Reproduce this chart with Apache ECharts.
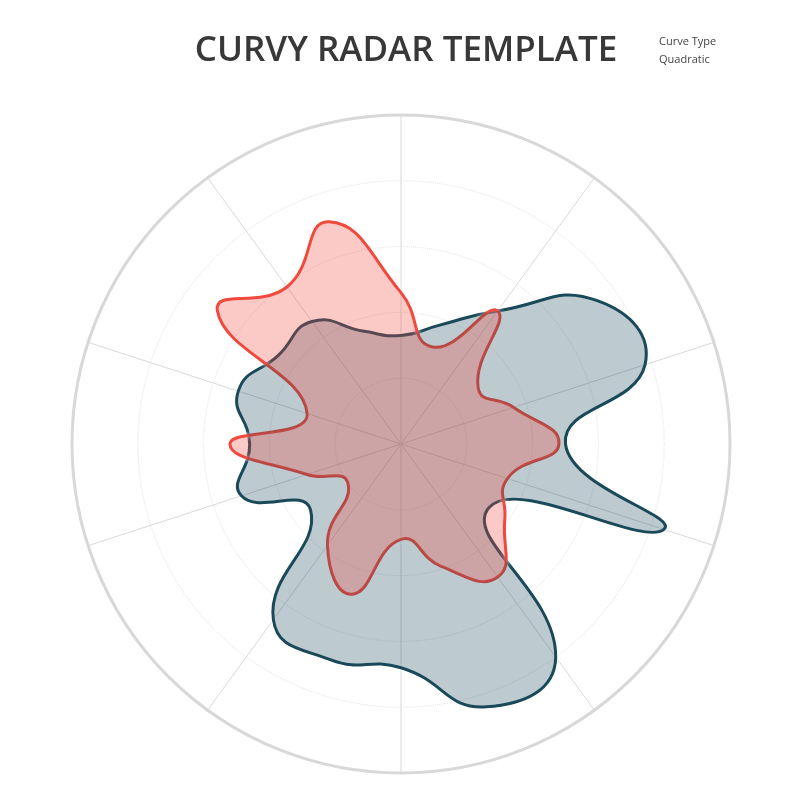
<!DOCTYPE html>
<html>
<head>
<meta charset="utf-8">
<title>Curvy Radar Template</title>
<script src="https://cdn.jsdelivr.net/npm/echarts@6/dist/echarts.min.js"></script>
<style>
  html, body { margin: 0; padding: 0; background: #fff; }
  #main { width: 799px; height: 799px; }
</style>
</head>
<body>
<div id="main"></div>
<script>
// angle of every point, clockwise from the top (degrees)
var angles = [0, 18, 36, 54, 72, 90, 108, 126, 144, 162, 180, 198, 216, 234, 252, 270, 288, 306, 324, 342];
// values, scale 0 - 100
var blueValues = [33, 38, 50, 74, 78, 50, 84, 33, 80, 84, 68, 69, 66, 34, 51, 46, 52, 46, 46, 36];
var redValues = [46, 31, 50, 29, 36, 48, 34, 39, 50, 39, 29, 48, 38, 20, 30, 52, 30, 69, 59, 71];

var blueLine = '#1a4a5a';
var redLine = '#f04a3e';

var myChart = echarts.init(document.getElementById('main'));

// one closed smooth shape per series, drawn through the polar axes
function shape(values, part, color) {
  return {
    type: 'custom',
    coordinateSystem: 'polar',
    silent: true,
    data: values.map(function (v, i) { return [v, angles[i]]; }),
    renderItem: function (params, api) {
      if (params.dataIndex !== 0) return null;
      var pts = values.map(function (v, i) { return api.coord([v, angles[i]]); });
      var style = part === 'line'
        ? { fill: 'none', stroke: color, lineWidth: 3, shadowColor: 'rgba(255,255,255,0.9)', shadowBlur: 4 }
        : { fill: color, stroke: 'none', opacity: 0.29 };
      return {
        type: 'polygon',
        shape: { points: pts, smooth: 0.5 },
        style: style
      };
    }
  };
}

var option = {
  backgroundColor: '#fff',
  title: [{
    text: 'CURVY RADAR TEMPLATE',
    left: 401,
    textAlign: 'center',
    top: 29,
    textStyle: { fontFamily: 'Open Sans', fontSize: 35, fontWeight: 600, color: '#383838' }
  }, {
    text: 'Curve Type\nQuadratic',
    left: 654,
    top: 28,
    textStyle: { fontFamily: 'Open Sans', fontSize: 11, fontWeight: 'normal', color: '#444', lineHeight: 18 }
  }],
  polar: {
    center: [401, 444],
    radius: 329
  },
  angleAxis: {
    type: 'value',
    min: 0,
    max: 360,
    interval: 36,
    startAngle: 90,
    clockwise: true,
    axisLine: { show: true, lineStyle: { color: '#d8d8d8', width: 3 } },
    axisTick: { show: false },
    axisLabel: { show: false },
    splitLine: { show: true, lineStyle: { color: '#d9d9d9', width: 1 } }
  },
  radiusAxis: {
    type: 'value',
    min: 0,
    max: 100,
    interval: 20,
    axisLine: { show: false },
    axisTick: { show: false },
    axisLabel: { show: false },
    splitLine: { show: true, lineStyle: { color: '#e2e2e2', width: 1, type: 'dotted' } }
  },
  series: [
    shape(blueValues, 'line', blueLine),
    shape(redValues, 'line', redLine),
    shape(blueValues, 'area', blueLine),
    shape(redValues, 'area', redLine)
  ]
};

myChart.setOption(option);
</script>
</body>
</html>
